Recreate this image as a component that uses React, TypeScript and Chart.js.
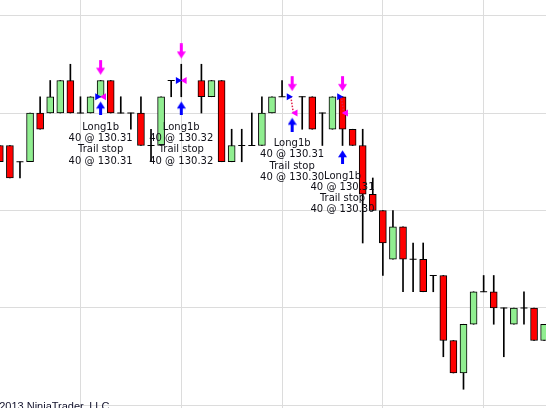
import React, { useEffect, useRef } from 'react';
import { Chart, registerables } from 'chart.js';

Chart.register(...registerables);

// ---- Data (bar index, OHLC) ----
const barIndex = [-1, 0, 1, 2, 3, 4, 5, 6, 7, 8, 9, 10, 11, 12, 13, 14, 15, 16, 17, 18, 19, 20, 21, 22, 23, 24, 25, 26, 27, 28, 29, 30, 31, 32, 33, 34, 35, 36, 37, 38, 39, 40, 41, 42, 43, 44, 45, 46, 47, 48, 49, 50, 51, 52, 53];
const opens: (number | null)[] = [130.28, 130.28, 130.27, 130.27, 130.30, 130.30, 130.30, 130.32, 130.30, 130.30, 130.31, 130.32, 130.30, 130.30, 130.30, 130.28, 130.28, 130.32, 130.32, null, 130.32, 130.31, 130.32, 130.27, 130.28, 130.28, 130.28, 130.30, 130.31, null, 130.31, 130.31, 130.30, 130.29, 130.31, 130.29, 130.28, 130.25, 130.24, 130.21, 130.23, 130.21, 130.21, 130.20, 130.20, 130.16, 130.14, 130.17, 130.19, 130.19, 130.18, 130.17, 130.18, 130.18, 130.16];
const highs: (number | null)[] = [130.28, 130.28, 130.27, 130.30, 130.31, 130.32, 130.32, 130.33, 130.31, 130.31, 130.32, 130.32, 130.31, 130.30, 130.31, 130.29, 130.31, 130.32, 130.33, null, 130.33, 130.32, 130.32, 130.29, 130.29, 130.30, 130.31, 130.31, 130.32, null, 130.31, 130.31, 130.30, 130.31, 130.31, 130.29, 130.29, 130.26, 130.24, 130.24, 130.23, 130.22, 130.22, 130.20, 130.20, 130.16, 130.17, 130.19, 130.20, 130.20, 130.18, 130.18, 130.19, 130.18, 130.17];
const lows: (number | null)[] = [130.27, 130.26, 130.26, 130.27, 130.29, 130.30, 130.30, 130.30, 130.30, 130.30, 130.31, 130.30, 130.30, 130.29, 130.28, 130.27, 130.28, 130.31, 130.31, null, 130.30, 130.31, 130.27, 130.27, 130.27, 130.28, 130.28, 130.30, 130.31, null, 130.29, 130.29, 130.28, 130.29, 130.28, 130.28, 130.22, 130.24, 130.20, 130.21, 130.19, 130.19, 130.19, 130.19, 130.15, 130.14, 130.13, 130.17, 130.19, 130.17, 130.15, 130.17, 130.17, 130.16, 130.16];
const closes: (number | null)[] = [130.27, 130.26, 130.27, 130.30, 130.29, 130.31, 130.32, 130.30, 130.30, 130.31, 130.32, 130.30, 130.30, 130.30, 130.28, 130.28, 130.31, 130.32, 130.32, null, 130.31, 130.32, 130.27, 130.28, 130.28, 130.28, 130.30, 130.31, 130.31, null, 130.31, 130.29, 130.30, 130.31, 130.29, 130.28, 130.25, 130.24, 130.22, 130.23, 130.21, 130.21, 130.19, 130.20, 130.16, 130.14, 130.17, 130.19, 130.19, 130.18, 130.18, 130.18, 130.18, 130.16, 130.17];

// ---- Grid positions ----
const xGridBars = [7, 17, 27, 37, 47];
const yGridPrices = [130.12, 130.18, 130.24, 130.30, 130.36];

// ---- Trades ----
const tradeBars = [9, 17, 28, 33];
const entryPrices = [130.31, 130.32, 130.31, 130.31];
const exitPrices = [130.31, 130.32, 130.30, 130.30];
const entryNames = ['Long1b', 'Long1b', 'Long1b', 'Long1b'];
const exitNames = ['Trail stop', 'Trail stop', 'Trail stop', 'Trail stop'];
const quantities = [40, 40, 40, 40];

const footerText = '\u00A9 2013 NinjaTrader, LLC';

function barAt(b: number) {
  return barIndex.indexOf(b);
}
function anchorHigh(t: number) {
  const k = barAt(tradeBars[t]);
  const vals = [entryPrices[t], exitPrices[t]];
  if (k >= 0 && highs[k] != null) vals.push(highs[k] as number);
  return Math.max(...vals);
}
function anchorLow(t: number) {
  const k = barAt(tradeBars[t]);
  const vals = [entryPrices[t], exitPrices[t]];
  if (k >= 0 && lows[k] != null) vals.push(lows[k] as number);
  return Math.min(...vals);
}

function makeArrow(color: string, up: boolean, gap: number, len: number) {
  const c = document.createElement('canvas');
  const w = 9;
  const h = Math.round(2 * (gap + len));
  c.width = w;
  c.height = h;
  const g = c.getContext('2d')!;
  g.fillStyle = color;
  const head = 7;
  if (!up) {
    const top = h / 2 - gap - len;
    const bottom = h / 2 - gap;
    g.fillRect(3, top, 3, len - head + 1);
    g.beginPath();
    g.moveTo(0, bottom - head);
    g.lineTo(w, bottom - head);
    g.lineTo(w / 2, bottom);
    g.closePath();
    g.fill();
  } else {
    const top = h / 2 + gap;
    g.beginPath();
    g.moveTo(w / 2, top);
    g.lineTo(w, top + head);
    g.lineTo(0, top + head);
    g.closePath();
    g.fill();
    g.fillRect(3, top + head - 1, 3, len - head + 1);
  }
  return c;
}

const overlayPlugin = {
  id: 'ntOverlay',
  afterDatasetsDraw(chart: any) {
    const { ctx } = chart;
    const x = chart.scales.x;
    const y = chart.scales.y;
    ctx.save();
    ctx.font = '10px "DejaVu Sans"';
    ctx.fillStyle = '#101018';
    ctx.textAlign = 'center';
    ctx.textBaseline = 'middle';
    tradeBars.forEach((b, t) => {
      const px = x.getPixelForValue(b);
      const py = y.getPixelForValue(anchorLow(t)) + 30.5;
      const lines = [
        entryNames[t],
        `${quantities[t]} @ ${entryPrices[t].toFixed(2)}`,
        exitNames[t],
        `${quantities[t]} @ ${exitPrices[t].toFixed(2)}`,
      ];
      lines.forEach((s, k) => ctx.fillText(s, px, py + k * 11.3));
    });
    // footer
    ctx.fillStyle = '#ffffff';
    ctx.fillRect(0, 398, 80, 10);
    ctx.font = '11px "Liberation Sans", Arial';
    ctx.fillStyle = '#10102a';
    ctx.textAlign = 'left';
    ctx.textBaseline = 'alphabetic';
    ctx.fillText(footerText, -12, 409.5);
    ctx.restore();
  },
};

export default function App() {
  const ref = useRef<HTMLCanvasElement | null>(null);

  useEffect(() => {
    if (!ref.current) return;
    const wickData: any[] = [];
    const bodyData: any[] = [];
    const bodyColors: string[] = [];
    const dojiData: any[] = [];
    barIndex.forEach((b, k) => {
      const o = opens[k], h = highs[k], l = lows[k], c = closes[k];
      if (o == null || h == null || l == null || c == null) return;
      wickData.push({ x: b, y: [l, h] });
      if (o === c) {
        dojiData.push({ x: b, y: o });
      } else {
        bodyData.push({ x: b, y: [o, c] });
        bodyColors.push(c > o ? '#90ee90' : '#ff0000');
      }
    });

    const magentaArrow = makeArrow('#ff00ff', false, 5.8, 15);
    const blueArrow = makeArrow('#0000ff', true, 4.7, 14);

    const tradeLineSets = tradeBars.map((b, t) => ({
      type: 'line' as const,
      data: [
        { x: b - 0.13, y: entryPrices[t] },
        { x: b + 0.12, y: exitPrices[t] },
      ],
      borderColor: '#e0204a',
      borderWidth: 1.5,
      borderDash: [1.5, 1.5],
      pointRadius: 0,
      order: 2,
    }));

    const chart = new Chart(ref.current, {
      type: 'bar',
      data: {
        datasets: [
          {
            type: 'bar',
            data: wickData,
            backgroundColor: '#000000',
            barThickness: 1,
            grouped: false,
            borderWidth: 0,
            order: 6,
          } as any,
          {
            type: 'bar',
            data: bodyData,
            backgroundColor: bodyColors,
            borderColor: '#000000',
            borderWidth: 1,
            borderSkipped: false,
            barThickness: 7,
            grouped: false,
            order: 5,
          } as any,
          {
            type: 'scatter',
            data: dojiData,
            pointStyle: 'line',
            pointRadius: 3.5,
            pointBorderWidth: 1,
            borderColor: '#000000',
            pointBorderColor: '#000000',
            showLine: false,
            order: 4,
          } as any,
          ...(tradeLineSets as any[]),
          {
            type: 'scatter',
            data: tradeBars.map((b, t) => ({ x: b - 0.33, y: entryPrices[t] })),
            pointStyle: 'triangle',
            rotation: 90,
            pointRadius: 4.1,
            pointBackgroundColor: '#0000ff',
            pointBorderColor: '#0000ff',
            pointBorderWidth: 0,
            order: 1,
          } as any,
          {
            type: 'scatter',
            data: tradeBars.map((b, t) => ({ x: b + 0.33, y: exitPrices[t] })),
            pointStyle: 'triangle',
            rotation: -90,
            pointRadius: 4.1,
            pointBackgroundColor: '#ff00ff',
            pointBorderColor: '#ff00ff',
            pointBorderWidth: 0,
            order: 1,
          } as any,
          {
            type: 'scatter',
            data: tradeBars.map((b, t) => ({ x: b, y: anchorHigh(t) })),
            pointStyle: magentaArrow,
            pointRadius: 10,
            order: 0,
          } as any,
          {
            type: 'scatter',
            data: tradeBars.map((b, t) => ({ x: b, y: anchorLow(t) })),
            pointStyle: blueArrow,
            pointRadius: 10,
            order: 0,
          } as any,
        ],
      },
      options: {
        responsive: false,
        animation: false,
        devicePixelRatio: 1,
        layout: { padding: 0, autoPadding: false },
        events: [],
        plugins: {
          legend: { display: false },
          tooltip: { enabled: false },
          title: { display: false },
        },
        scales: {
          x: {
            type: 'linear',
            min: -0.982,
            max: 53.185,
            offset: false,
            grid: { color: '#dcdcdc', lineWidth: 1, drawTicks: false, offset: false },
            border: { display: false },
            ticks: { display: false, padding: 0 },
            afterBuildTicks: (scale: any) => {
              scale.ticks = xGridBars.map((v) => ({ value: v }));
            },
          },
          y: {
            type: 'linear',
            min: 130.11846,
            max: 130.36954,
            grid: { color: '#dcdcdc', lineWidth: 1, drawTicks: false },
            border: { display: false },
            ticks: { display: false, padding: 0 },
            afterBuildTicks: (scale: any) => {
              scale.ticks = yGridPrices.map((v) => ({ value: v }));
            },
          },
        },
      } as any,
      plugins: [overlayPlugin],
    });
    return () => chart.destroy();
  }, []);

  return (
    <div style={{ position: 'fixed', left: 0, top: 0, width: 546, height: 408, background: '#ffffff' }}>
      <canvas ref={ref} width={546} height={408} style={{ display: 'block' }} />
    </div>
  );
}
